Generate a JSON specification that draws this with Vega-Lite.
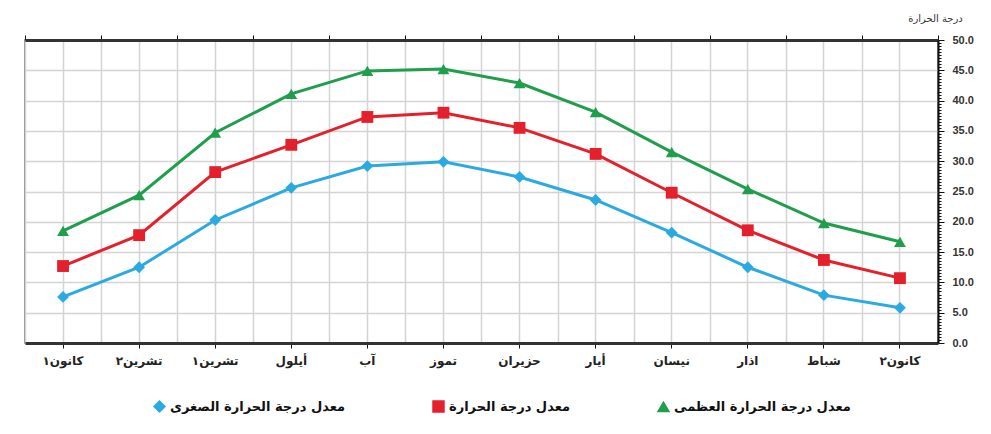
{
  "$schema": "https://vega.github.io/schema/vega-lite/v6.json",
  "width": 913,
  "height": 303,
  "autosize": "none",
  "padding": {"left": 25, "top": 40, "right": 53, "bottom": 91},
  "background": "white",
  "config": {
    "view": {"stroke": "#666666", "strokeWidth": 1.5},
    "font": "DejaVu Sans"
  },
  "data": {
    "values": [
      {"month": "كانون١", "series": "معدل درجة الحرارة العظمى", "value": 18.5},
      {"month": "تشرين٢", "series": "معدل درجة الحرارة العظمى", "value": 24.4},
      {"month": "تشرين١", "series": "معدل درجة الحرارة العظمى", "value": 34.7},
      {"month": "أيلول", "series": "معدل درجة الحرارة العظمى", "value": 41.1},
      {"month": "آب", "series": "معدل درجة الحرارة العظمى", "value": 44.9},
      {"month": "تموز", "series": "معدل درجة الحرارة العظمى", "value": 45.2},
      {"month": "حزيران", "series": "معدل درجة الحرارة العظمى", "value": 42.9},
      {"month": "أيار", "series": "معدل درجة الحرارة العظمى", "value": 38.1},
      {"month": "نيسان", "series": "معدل درجة الحرارة العظمى", "value": 31.5},
      {"month": "اذار", "series": "معدل درجة الحرارة العظمى", "value": 25.4},
      {"month": "شباط", "series": "معدل درجة الحرارة العظمى", "value": 19.8},
      {"month": "كانون٢", "series": "معدل درجة الحرارة العظمى", "value": 16.7},
      {"month": "كانون١", "series": "معدل درجة الحرارة", "value": 12.7},
      {"month": "تشرين٢", "series": "معدل درجة الحرارة", "value": 17.8},
      {"month": "تشرين١", "series": "معدل درجة الحرارة", "value": 28.2},
      {"month": "أيلول", "series": "معدل درجة الحرارة", "value": 32.7},
      {"month": "آب", "series": "معدل درجة الحرارة", "value": 37.3},
      {"month": "تموز", "series": "معدل درجة الحرارة", "value": 38.0},
      {"month": "حزيران", "series": "معدل درجة الحرارة", "value": 35.5},
      {"month": "أيار", "series": "معدل درجة الحرارة", "value": 31.2},
      {"month": "نيسان", "series": "معدل درجة الحرارة", "value": 24.8},
      {"month": "اذار", "series": "معدل درجة الحرارة", "value": 18.6},
      {"month": "شباط", "series": "معدل درجة الحرارة", "value": 13.7},
      {"month": "كانون٢", "series": "معدل درجة الحرارة", "value": 10.7},
      {"month": "كانون١", "series": "معدل درجة الحرارة الصغرى", "value": 7.6},
      {"month": "تشرين٢", "series": "معدل درجة الحرارة الصغرى", "value": 12.5},
      {"month": "تشرين١", "series": "معدل درجة الحرارة الصغرى", "value": 20.3},
      {"month": "أيلول", "series": "معدل درجة الحرارة الصغرى", "value": 25.6},
      {"month": "آب", "series": "معدل درجة الحرارة الصغرى", "value": 29.2},
      {"month": "تموز", "series": "معدل درجة الحرارة الصغرى", "value": 29.9},
      {"month": "حزيران", "series": "معدل درجة الحرارة الصغرى", "value": 27.4},
      {"month": "أيار", "series": "معدل درجة الحرارة الصغرى", "value": 23.6},
      {"month": "نيسان", "series": "معدل درجة الحرارة الصغرى", "value": 18.2},
      {"month": "اذار", "series": "معدل درجة الحرارة الصغرى", "value": 12.5},
      {"month": "شباط", "series": "معدل درجة الحرارة الصغرى", "value": 7.9},
      {"month": "كانون٢", "series": "معدل درجة الحرارة الصغرى", "value": 5.8}
    ]
  },
  "encoding": {
    "y": {
      "field": "value",
      "type": "quantitative",
      "scale": {"domain": [0, 50], "nice": false, "zero": true},
      "axis": {
        "orient": "right",
        "values": [0,0.5,1,1.5,2,2.5,3,3.5,4,4.5,5,5.5,6,6.5,7,7.5,8,8.5,9,9.5,10,10.5,11,11.5,12,12.5,13,13.5,14,14.5,15,15.5,16,16.5,17,17.5,18,18.5,19,19.5,20,20.5,21,21.5,22,22.5,23,23.5,24,24.5,25,25.5,26,26.5,27,27.5,28,28.5,29,29.5,30,30.5,31,31.5,32,32.5,33,33.5,34,34.5,35,35.5,36,36.5,37,37.5,38,38.5,39,39.5,40,40.5,41,41.5,42,42.5,43,43.5,44,44.5,45,45.5,46,46.5,47,47.5,48,48.5,49,49.5,50],
        "labelExpr": "datum.value % 5 == 0 ? format(datum.value, '.1f') : ''",
        "labelFont": "Liberation Sans",
        "labelFontSize": 11,
        "labelFontWeight": "bold",
        "labelColor": "#333333",
        "labelPadding": 8,
        "labelFlush": false,
        "labelOverlap": false,
        "domainColor": "#111111",
        "domainWidth": 2,
        "tickColor": "#111111",
        "tickWidth": 1,
        "tickSize": {"condition": {"test": "datum.value % 5 == 0", "value": 6}, "value": 3},
        "grid": true,
        "gridColor": "#d4d4d4",
        "gridWidth": 1.5,
        "gridOpacity": {"condition": {"test": "datum.value % 5 == 0", "value": 1}, "value": 0},
        "title": "درجة الحرارة",
        "titleAngle": 0,
        "titleX": -3,
        "titleY": -22,
        "titleAlign": "center",
        "titleBaseline": "middle",
        "titleFontSize": 10,
        "titleFontWeight": "normal",
        "titleColor": "#333333"
      }
    },
    "color": {
      "field": "series",
      "type": "nominal",
      "scale": {
        "domain": ["معدل درجة الحرارة الصغرى", "معدل درجة الحرارة", "معدل درجة الحرارة العظمى"],
        "range": ["#2aaae0", "#e3202b", "#1f9e4b"]
      },
      "legend": {
        "orient": "none",
        "legendX": 128,
        "legendY": 360,
        "direction": "horizontal",
        "title": null,
        "labelFont": "DejaVu Sans",
        "labelFontSize": 13,
        "labelFontWeight": "bold",
        "labelColor": "#111111",
        "labelLimit": 400,
        "columnPadding": 84,
        "symbolSize": 120
      }
    }
  },
  "layer": [
    {
      "mark": {"type": "line", "strokeWidth": 3},
      "encoding": {
        "x": {
          "field": "month",
          "type": "nominal",
          "sort": ["كانون١", "تشرين٢", "تشرين١", "أيلول", "آب", "تموز", "حزيران", "أيار", "نيسان", "اذار", "شباط", "كانون٢"],
          "scale": {"type": "band", "paddingInner": 0, "paddingOuter": 0},
          "axis": {
            "title": null,
            "labelAngle": 0,
            "labelFont": "DejaVu Sans",
            "labelFontSize": 12,
            "labelFontWeight": "bold",
            "labelColor": "#222222",
            "labelPadding": 7,
            "domainColor": "#333333",
            "domainWidth": 3,
            "tickColor": "#111111",
            "tickSize": 5,
            "grid": true,
            "gridColor": "#d4d4d4",
            "gridWidth": 1.5
          }
        }
      }
    },
    {
      "mark": {"type": "point", "filled": true, "size": 140, "opacity": 1},
      "encoding": {
        "x": {
          "field": "month",
          "type": "nominal",
          "sort": ["كانون١", "تشرين٢", "تشرين١", "أيلول", "آب", "تموز", "حزيران", "أيار", "نيسان", "اذار", "شباط", "كانون٢"],
          "axis": {
            "title": null,
            "labels": false,
            "tickBand": "extent",
            "domainColor": "#333333",
            "domainWidth": 3,
            "tickColor": "#111111",
            "tickSize": 5,
            "grid": true,
            "gridColor": "#d4d4d4",
            "gridWidth": 1.5
          }
        },
        "shape": {
          "field": "series",
          "type": "nominal",
          "scale": {
            "domain": ["معدل درجة الحرارة الصغرى", "معدل درجة الحرارة", "معدل درجة الحرارة العظمى"],
            "range": ["diamond", "square", "triangle-up"]
          },
          "legend": {
            "orient": "none",
            "legendX": 128,
            "legendY": 360,
            "direction": "horizontal",
            "title": null,
            "labelFont": "DejaVu Sans",
            "labelFontSize": 13,
            "labelFontWeight": "bold",
            "labelColor": "#111111",
            "labelLimit": 400,
            "columnPadding": 84,
            "symbolSize": 120
          }
        }
      }
    }
  ],
  "resolve": {"axis": {"x": "independent"}}
}
